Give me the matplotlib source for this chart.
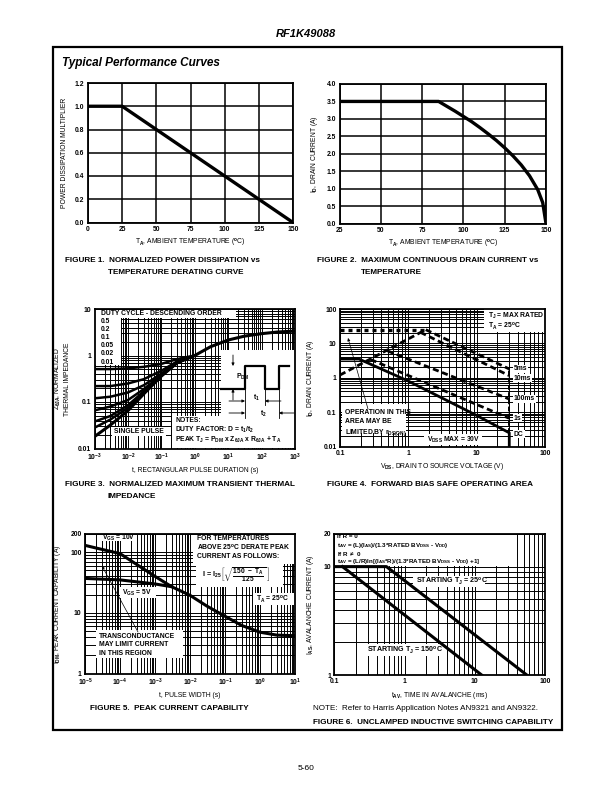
import matplotlib
matplotlib.use("Agg")
from matplotlib import pyplot as plt
from matplotlib import font_manager
from matplotlib.patches import Rectangle, FancyArrowPatch
from matplotlib.ticker import LogLocator, NullFormatter

W, H = 612, 792

names = {f.name for f in font_manager.fontManager.ttflist}
FONT = 'Liberation Sans Narrow' if 'Liberation Sans Narrow' in names else 'Liberation Sans'
plt.rcParams['font.family'] = [FONT, 'DejaVu Sans']
plt.rcParams['font.weight'] = 'bold'
plt.rcParams['mathtext.fontset'] = 'custom'
plt.rcParams['mathtext.rm'] = FONT + ':bold'
plt.rcParams['mathtext.it'] = FONT + ':bold'
plt.rcParams['mathtext.bf'] = FONT + ':bold'
plt.rcParams['mathtext.default'] = 'rm'

# figure 1 - power derating
f1_temp = [0, 25, 150]
f1_mult = [1.0, 1.0, 0.0]

# figure 2 - drain current vs temperature
f2_temp = [25, 85, 90, 95, 100, 105, 110, 115, 120, 125, 130, 135, 140, 145, 148, 150]
f2_id = [3.5, 3.5, 3.36, 3.22, 3.07, 2.92, 2.75, 2.57, 2.38, 2.17, 1.94, 1.68, 1.37, 0.97, 0.6, 0.0]

# figure 3 - transient thermal impedance
f3_t = [1e-3, 3e-3, 1e-2, 3e-2, 1e-1, 3e-1, 1.0]
f3_z_05 = [0.51, 0.51, 0.53, 0.57, 0.66, 0.84, 1.0]
f3_z_02 = [0.22, 0.22, 0.25, 0.31, 0.47, 0.75, 1.0]
f3_z_01 = [0.12, 0.13, 0.16, 0.23, 0.41, 0.72, 1.0]
f3_z_005 = [0.066, 0.08, 0.11, 0.19, 0.38, 0.71, 1.0]
f3_z_002 = [0.038, 0.05, 0.085, 0.17, 0.37, 0.70, 1.0]
f3_z_001 = [0.028, 0.042, 0.075, 0.16, 0.365, 0.70, 1.0]
f3_single_t = [1e-3, 3e-3, 1e-2, 3e-2, 1e-1, 3e-1, 1, 3, 10, 30, 100, 300, 1000]
f3_single_z = [0.018, 0.032, 0.065, 0.15, 0.36, 0.70, 1.0, 1.55, 2.15, 2.6, 2.95, 3.2, 3.35]
f3_duty_labels = ['0.5', '0.2', '0.1', '0.05', '0.02', '0.01']

# figure 4 - safe operating area
f4_rds_v = [0.1, 1.8]
f4_rds_i = [1.2, 25]
f4_top_v = [0.1, 1.8]
f4_top_i = [25, 25]
f4_5ms_v = [1.8, 30]
f4_5ms_i = [25, 1.8]
f4_10ms_v = [1.5, 30]
f4_10ms_i = [21, 1.15]
f4_100ms_v = [0.5, 30]
f4_100ms_i = [6.0, 0.24]
f4_1s_v = [0.28, 30]
f4_1s_i = [3.4, 0.066]
f4_dc_v = [0.1, 0.19, 1, 10, 30, 30]
f4_dc_i = [3.5, 3.5, 0.8, 0.08, 0.025, 0.01]
f4_vmax_v = [30, 30]
f4_vmax_i = [0.025, 1.8]

# figure 5 - peak current
f5_t10 = [1e-5, 2e-5, 1e-4, 1e-3, 3e-3, 1e-2, 3e-2, 1e-1, 3e-1, 1, 3, 10]
f5_i10 = [130, 118, 95, 40, 27, 19.5, 13, 8.8, 6.2, 4.8, 4.3, 4.2]
f5_t5 = [1e-5, 1e-4, 1e-3, 3e-3]
f5_i5 = [37, 35, 30, 27]

# figure 6 - unclamped inductive switching
f6_t25 = [0.1, 0.55, 55]
f6_i25 = [10, 10, 1]
f6_t150 = [0.13, 12.5]
f6_i150 = [10, 1]

fig = plt.figure(figsize=(W / 100, H / 100), dpi=100)


def P(x, y):
    return (x / W, 1 - y / H)


def add_ax(x0, y0, x1, y1):
    return fig.add_axes([x0 / W, 1 - y1 / H, (x1 - x0) / W, (y1 - y0) / H])


def wbox(ax, x0, y0, x1, y1):
    ax.add_patch(Rectangle(P(x0, y1), (x1 - x0) / W, (y1 - y0) / H, transform=fig.transFigure,
                           facecolor='white', edgecolor='none', zorder=1.5))


def ftext(x, y, s, size=4.9, **kw):
    kw.setdefault('ha', 'left')
    kw.setdefault('va', 'center')
    fig.text(x / W, 1 - y / H, s, fontsize=size, **kw)


def arrow(tail, head, lw=0.6):
    fig.add_artist(FancyArrowPatch(P(*tail), P(*head), transform=fig.transFigure,
                                   arrowstyle='-|>', color='black', lw=lw,
                                   mutation_scale=4, shrinkA=0, shrinkB=0))


def style(ax, log=False):
    ax.set_axisbelow(True)
    for sp in ax.spines.values():
        sp.set_linewidth(1.3)
    ax.tick_params(which='both', length=0, labelsize=4.9, pad=2.5)
    if log:
        ax.set_xscale('log')
        ax.set_yscale('log')
        for a in (ax.xaxis, ax.yaxis):
            a.set_minor_locator(LogLocator(base=10, subs=range(2, 10), numticks=20))
            a.set_minor_formatter(NullFormatter())
        ax.grid(which='both', color='black', lw=0.7)
    else:
        ax.grid(color='black', lw=1.1)


CAP = 5.9

# page frame and headings
fig.add_artist(Rectangle(P(53, 730), 509 / W, 683 / H, transform=fig.transFigure,
                         fill=False, edgecolor='black', lw=1.6))
ftext(306, 34, 'RF1K49088', size=8, ha='center', style='italic')
ftext(62, 63, 'Typical Performance Curves', size=8.5, style='italic')
ftext(306, 768, '5-60', size=6, ha='center', weight='normal')

# ---- figure 1
ax1 = add_ax(88, 83, 293, 222.5)
style(ax1)
ax1.plot(f1_temp, f1_mult, color='black', lw=2.4, solid_capstyle='butt')
ax1.set_xlim(0, 150)
ax1.set_ylim(0, 1.2)
ax1.set_xticks([0, 25, 50, 75, 100, 125, 150])
ax1.set_yticks([0, 0.2, 0.4, 0.6, 0.8, 1.0, 1.2])
ax1.set_yticklabels(['0.0', '0.2', '0.4', '0.6', '0.8', '1.0', '1.2'])
ax1.set_xlabel('T$_A$, AMBIENT TEMPERATURE ($^o$C)', fontsize=4.9, labelpad=3)
ax1.set_ylabel('POWER DISSIPATION MULTIPLIER', fontsize=4.9, labelpad=5)
ftext(65, 261, 'FIGURE 1.  NORMALIZED POWER DISSIPATION vs', size=CAP)
ftext(108, 272, 'TEMPERATURE DERATING CURVE', size=CAP)

# ---- figure 2
ax2 = add_ax(339.5, 84, 546, 223.5)
style(ax2)
ax2.plot(f2_temp, f2_id, color='black', lw=2.4)
ax2.set_xlim(25, 150)
ax2.set_ylim(0, 4)
ax2.set_xticks([25, 50, 75, 100, 125, 150])
ax2.set_yticks([0, 0.5, 1, 1.5, 2, 2.5, 3, 3.5, 4])
ax2.set_yticklabels(['0.0', '0.5', '1.0', '1.5', '2.0', '2.5', '3.0', '3.5', '4.0'])
ax2.set_xlabel('T$_A$, AMBIENT TEMPERATURE ($^o$C)', fontsize=4.9, labelpad=3)
ax2.set_ylabel('I$_D$, DRAIN CURRENT (A)', fontsize=4.9, labelpad=5)
ftext(317, 261, 'FIGURE 2.  MAXIMUM CONTINUOUS DRAIN CURRENT vs', size=CAP)
ftext(361, 272, 'TEMPERATURE', size=CAP)

# ---- figure 3
ax3 = add_ax(94.5, 309, 295, 448.5)
style(ax3, log=True)
ax3.set_xlim(1e-3, 1e3)
ax3.set_ylim(0.01, 10)
for z in (f3_z_05, f3_z_02, f3_z_01, f3_z_005, f3_z_002, f3_z_001):
    ax3.plot(f3_t, z, color='black', lw=1.8, zorder=2)
ax3.plot(f3_single_t, f3_single_z, color='black', lw=2.2, zorder=2)
ax3.set_xticks([1e-3, 1e-2, 1e-1, 1, 10, 100, 1000])
ax3.set_xticklabels(['$10^{-3}$', '$10^{-2}$', '$10^{-1}$', '$10^{0}$', '$10^{1}$', '$10^{2}$', '$10^{3}$'])
ax3.set_yticks([0.01, 0.1, 1, 10])
ax3.set_yticklabels(['0.01', '0.1', '1', '10'])
ax3.set_xlabel('t, RECTANGULAR PULSE DURATION (s)', fontsize=4.9, labelpad=3)
ax3.set_ylabel('Z$_{\\theta JA}$, NORMALIZED\nTHERMAL IMPEDANCE', fontsize=4.9, labelpad=5)
wbox(ax3, 95, 309.5, 236, 318)
wbox(ax3, 95, 318, 121, 365)
wbox(ax3, 112, 427, 166, 436)
wbox(ax3, 221, 350, 295, 416)
wbox(ax3, 172, 416, 295, 448)
ftext(101, 314, 'DUTY CYCLE - DESCENDING ORDER')
for k, lab in enumerate(f3_duty_labels):
    ftext(101, 321.5 + k * 8.1, lab)
ftext(114, 431.5, 'SINGLE PULSE')
ftext(175, 421, 'NOTES:')
ftext(175, 430, 'DUTY FACTOR: D = t$_1$/t$_2$')
ftext(175, 439.5, 'PEAK T$_J$ = P$_{DM}$ x Z$_{\\theta JA}$ x R$_{\\theta JA}$ + T$_A$')
# pulse sketch
px = [221, 245, 245, 265, 265, 279, 279, 289]
py = [389, 389, 366, 366, 389, 389, 366, 366]
ax3.plot([x / W for x in px], [1 - y / H for y in py], color='black', lw=1.6,
         transform=fig.transFigure, zorder=3, clip_on=False)
for x0, y0, y1 in [(245, 389, 418), (265, 389, 405), (279, 389, 418)]:
    ax3.plot([x0 / W, x0 / W], [1 - y0 / H, 1 - y1 / H], color='black', lw=0.6,
             transform=fig.transFigure, zorder=3, clip_on=False)
for tail, head in [((233, 355), (233, 366)), ((233, 400), (233, 389)),
                   ((229, 401), (245, 401)), ((281, 401), (265, 401)),
                   ((229, 413), (245, 413)), ((294, 413), (279, 413))]:
    arrow(tail, head)
ftext(236, 377, 'P$_{DM}$')
ftext(253, 398, 't$_1$')
ftext(260, 414, 't$_2$')
ftext(65, 485, 'FIGURE 3.  NORMALIZED MAXIMUM TRANSIENT THERMAL', size=CAP)
ftext(108, 496, 'IMPEDANCE', size=CAP)

# ---- figure 4
ax4 = add_ax(340, 309, 545, 446.5)
style(ax4, log=True)
ax4.set_xlim(0.1, 100)
ax4.set_ylim(0.01, 100)
dash = dict(color='black', lw=2.0, ls=(0, (2.2, 1.3)), zorder=2)
ax4.plot(f4_rds_v, f4_rds_i, **dash)
ax4.plot(f4_top_v, f4_top_i, color='black', lw=2.4, ls=(0, (1.2, 1.2)), zorder=2)
ax4.plot(f4_5ms_v, f4_5ms_i, **dash)
ax4.plot(f4_10ms_v, f4_10ms_i, **dash)
ax4.plot(f4_100ms_v, f4_100ms_i, **dash)
ax4.plot(f4_1s_v, f4_1s_i, **dash)
ax4.plot(f4_vmax_v, f4_vmax_i, color='black', lw=1.4, ls=(0, (2.5, 1.2)), zorder=2)
ax4.plot(f4_dc_v, f4_dc_i, color='black', lw=2.0, zorder=2)
ax4.set_xticks([0.1, 1, 10, 100])
ax4.set_xticklabels(['0.1', '1', '10', '100'])
ax4.set_yticks([0.01, 0.1, 1, 10, 100])
ax4.set_yticklabels(['0.01', '0.1', '1', '10', '100'])
ax4.set_xlabel('V$_{DS}$, DRAIN TO SOURCE VOLTAGE (V)', fontsize=4.9, labelpad=3)
ax4.set_ylabel('I$_D$, DRAIN CURRENT (A)', fontsize=4.9, labelpad=5)
wbox(ax4, 484, 309.5, 545, 332)
wbox(ax4, 342, 404, 406, 433)
wbox(ax4, 424, 434, 482, 445)
ftext(488, 316, 'T$_J$ = MAX RATED')
ftext(488, 326.5, 'T$_A$ = 25$^o$C')
for lab, y in [('5ms', 369), ('10ms', 378), ('100ms', 399), ('1s', 418), ('DC', 434)]:
    fig.text(514 / W, 1 - y / H, lab, fontsize=4.9, ha='left', va='center',
             bbox=dict(facecolor='white', edgecolor='none', pad=0.6), zorder=5)
ftext(345, 409, 'OPERATION IN THIS\nAREA MAY BE\nLIMITED BY r$_{DS(ON)}$', va='top', linespacing=1.35)
ftext(427, 439.5, 'V$_{DSS}$ MAX = 30V')
arrow((368, 409), (348, 338), lw=0.5)
ftext(327, 485, 'FIGURE 4.  FORWARD BIAS SAFE OPERATING AREA', size=CAP)

# ---- figure 5
ax5 = add_ax(85, 534, 295, 673.5)
style(ax5, log=True)
ax5.set_xlim(1e-5, 10)
ax5.set_ylim(1, 200)
ax5.plot(f5_t10, f5_i10, color='black', lw=2.2, zorder=2)
ax5.plot(f5_t5, f5_i5, color='black', lw=2.2, zorder=2)
ax5.set_xticks([1e-5, 1e-4, 1e-3, 1e-2, 1e-1, 1, 10])
ax5.set_xticklabels(['$10^{-5}$', '$10^{-4}$', '$10^{-3}$', '$10^{-2}$', '$10^{-1}$', '$10^{0}$', '$10^{1}$'])
ax5.set_yticks([1, 10, 100, 200])
ax5.set_yticklabels(['1', '10', '100', '200'])
ax5.set_xlabel('t, PULSE WIDTH (s)', fontsize=4.9, labelpad=3)
ax5.set_ylabel('I$_{DM}$, PEAK CURRENT CAPABILITY (A)', fontsize=4.9, labelpad=5)
wbox(ax5, 99, 534.5, 137, 541)
wbox(ax5, 193, 534.5, 295, 564)
wbox(ax5, 196, 564, 283, 587)
wbox(ax5, 253, 593, 295, 605)
wbox(ax5, 120, 587, 156, 598)
wbox(ax5, 96, 630, 183, 658)
ftext(102, 537.5, 'V$_{GS}$ = 10V')
ftext(122, 592.5, 'V$_{GS}$ = 5V')
ftext(197, 539, 'FOR TEMPERATURES')
ftext(197, 547.5, 'ABOVE 25$^o$C DERATE PEAK')
ftext(197, 556, 'CURRENT AS FOLLOWS:')
ftext(202, 575, 'I = I$_{25}$', size=5.2)
ftext(220, 575, '$\\left[\\sqrt{\\frac{150\\ -\\ T_A}{125}}\\;\\right]$', size=6.8)
ftext(256, 599.5, 'T$_A$ = 25$^o$C')
ftext(99, 645, 'TRANSCONDUCTANCE\nMAY LIMIT CURRENT\nIN THIS REGION', linespacing=1.35)
arrow((138, 632), (102, 566), lw=0.5)
ftext(90, 709, 'FIGURE 5.  PEAK CURRENT CAPABILITY', size=CAP)

# ---- figure 6
ax6 = add_ax(334.5, 534, 545, 675)
style(ax6, log=True)
ax6.set_xlim(0.1, 100)
ax6.set_ylim(1, 20)
ax6.plot(f6_t25, f6_i25, color='black', lw=2.2, zorder=2)
ax6.plot(f6_t150, f6_i150, color='black', lw=2.2, zorder=2)
ax6.set_xticks([0.1, 1, 10, 100])
ax6.set_xticklabels(['0.1', '1', '10', '100'])
ax6.set_yticks([1, 10, 20])
ax6.set_yticklabels(['1', '10', '20'])
ax6.set_xlabel('t$_{AV}$, TIME IN AVALANCHE (ms)', fontsize=4.9, labelpad=3)
ax6.set_ylabel('I$_{AS}$, AVALANCHE CURRENT (A)', fontsize=4.9, labelpad=5)
wbox(ax6, 335, 534.5, 510, 566)
wbox(ax6, 413, 576, 485, 587)
wbox(ax6, 365, 644, 443, 656)
ftext(337, 537, 'If R = 0', size=4.5)
ftext(337, 545.3, 't$_{AV}$ = (L)(I$_{AS}$)/(1.3*RATED BV$_{DSS}$ - V$_{DD}$)', size=4.5)
ftext(337, 553.6, 'If R $\\neq$ 0', size=4.5)
ftext(337, 561.9, 't$_{AV}$ = (L/R)ln[(I$_{AS}$*R)/(1.3*RATED BV$_{DSS}$ - V$_{DD}$) +1]', size=4.5)
ftext(416, 581.5, 'STARTING T$_J$ = 25$^o$C', size=5.1)
ftext(367, 650, 'STARTING T$_J$ = 150$^o$C', size=5.1)
ftext(313, 709, 'NOTE:  Refer to Harris Application Notes AN9321 and AN9322.', size=5.8, weight='normal')
ftext(313, 722, 'FIGURE 6.  UNCLAMPED INDUCTIVE SWITCHING CAPABILITY', size=CAP)

fig.savefig('out.png', dpi=100)
